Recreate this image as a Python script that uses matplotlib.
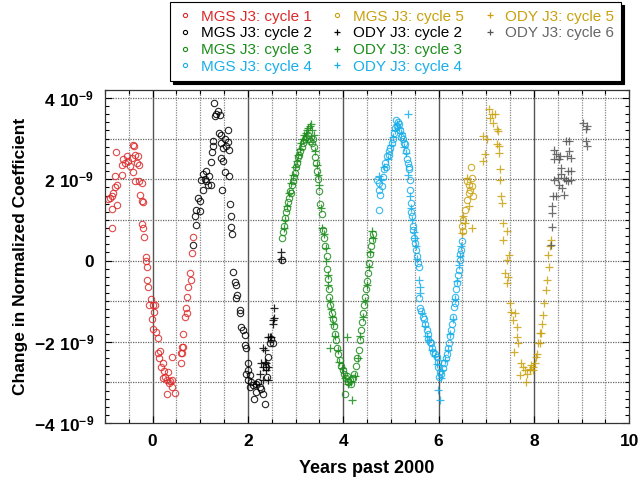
import matplotlib
matplotlib.use('Agg')
import matplotlib.pyplot as plt
from matplotlib.ticker import MultipleLocator, FuncFormatter
from matplotlib.lines import Line2D

plt.rcParams['font.family'] = ['Liberation Sans', 'DejaVu Sans']
plt.rcParams['mathtext.fontset'] = 'custom'
plt.rcParams['mathtext.rm'] = 'Liberation Sans'
plt.rcParams['mathtext.bf'] = 'Liberation Sans:bold'

# values in units of 1e-9, time in years past 2000
mgs1_t = [-0.767, -0.404, -0.384, -0.544, -0.614, -0.649, -0.579, -0.509, -0.474, -0.439, -0.370, -0.300,
          -0.335, -0.279, -0.404, -0.649, -0.788, -0.753, -0.788, -0.823, -0.858, -0.893, -0.927, -0.753,
          -0.844, -0.844, -0.370, -0.279, -0.216, -0.265, -0.230, -0.195, -0.230, -0.209, -0.174, -0.146,
          -0.146, -0.126, -0.126, -0.091, -0.042, -0.070, 0.000, 0.049, 0.035, -0.021, 0.014, 0.070, 0.105,
          0.153, 0.119, 0.139, 0.223, 0.167, 0.237, 0.209, 0.258, 0.328, 0.293, 0.363, 0.397, 0.349, 0.397,
          0.293, 0.467, 0.411, 0.607, 0.593, 0.593, 0.628, 0.642, 0.607, 0.676, 0.697, 0.711, 0.725, 0.746,
          0.781, 0.802, 0.830, 0.837]
mgs1_v = [2.66, 2.85, 2.83, 2.58, 2.50, 2.36, 2.40, 2.44, 2.32, 2.52, 2.60, 2.58,
          2.40, 2.36, 2.19, 2.11, 2.07, 1.87, 1.81, 1.66, 1.58, 1.54, 1.51, 1.37,
          1.27, 0.80, 1.95, 1.96, 1.91, 1.62, 1.47, 1.43, 0.90, 0.81, 0.59, 0.08,
          0.00, -0.15, -0.48, -0.64, -0.94, -1.09, -1.09, -1.09, -1.26, -1.45, -1.69, -1.77, -1.91,
          -2.22, -2.28, -2.41, -2.53, -2.63, -2.71, -2.90, -2.86, -2.74, -2.94, -2.96, -2.94, -3.02, -3.12,
          -3.29, -3.25, -2.37, -2.12, -2.27, -2.51, -1.81, -2.12, -2.28, -1.38, -1.18, -1.28, -0.89, -0.64,
          -0.31, -0.48, 0.18, 0.57]

mgs2_t = [1.287, 1.371, 1.336, 1.301, 1.406, 1.580, 1.392, 1.437, 1.266, 1.510, 1.580, 1.545, 1.441,
          1.476, 1.266, 1.245, 1.601, 1.441, 1.476, 1.231, 1.126, 1.056, 1.182, 1.091, 1.021, 1.126,
          1.161, 1.231, 1.510, 1.601, 1.056, 1.462, 0.951, 1.000, 0.916, 0.986, 0.881, 0.916, 1.629,
          1.650, 1.636, 1.664, 0.846, 1.685, 1.720, 1.755, 1.769, 1.755, 1.825, 1.839, 1.860, 1.895,
          1.930, 1.930, 1.965, 2.000, 1.965, 2.035, 2.070, 2.000, 2.105, 2.161, 2.210, 2.245, 2.175,
          2.280, 2.315, 2.119, 2.350, 2.399, 2.385, 2.420, 2.455, 2.490, 2.000, 2.049, 2.520, 2.720]
mgs2_v = [3.87, 3.68, 3.60, 3.56, 3.57, 3.21, 3.14, 3.10, 2.94, 2.98, 2.91, 2.81, 2.90,
          2.77, 2.81, 2.67, 2.72, 2.53, 2.44, 2.42, 2.20, 2.12, 2.07, 2.01, 1.99, 1.95,
          1.87, 1.87, 2.17, 2.07, 1.74, 1.73, 1.54, 1.46, 1.25, 1.21, 1.09, 0.88, 1.40,
          1.10, 0.82, 0.66, 0.39, -0.27, -0.52, -0.60, -0.85, -0.93, -1.22, -1.28, -1.63, -1.71,
          -1.84, -2.08, -2.16, -2.53, -2.78, -2.82, -2.99, -2.95, -3.07, -3.03, -2.99, -3.11, -3.23,
          -3.15, -3.28, -3.40, -3.52, -2.86, -2.62, -2.37, -2.04, -1.92, -2.70, -3.11, -2.03, 0.02]

mgs3_t = [2.72, 2.74, 2.76, 2.78, 2.80, 2.82, 2.84, 2.86, 2.88, 2.90, 2.92, 2.94, 2.96, 2.98, 3.00,
          3.03, 3.05, 3.08, 3.10, 3.13, 3.16, 3.19, 3.22, 3.25, 3.28, 3.31, 3.34, 3.37, 3.39, 3.41,
          3.43, 3.45, 3.48, 3.50, 3.52, 3.55, 3.57, 3.60, 3.62, 3.65, 3.66, 3.68, 3.70, 3.71, 3.73,
          3.76, 3.78, 3.80, 3.82, 3.85, 3.87, 3.90, 3.93, 3.96, 3.99, 4.02, 4.05, 4.03, 4.08, 4.11,
          4.14, 4.17, 4.20, 4.23, 4.26, 4.29, 4.32, 4.35, 4.38, 4.40, 4.42, 4.44, 4.46, 4.48, 4.50,
          4.52, 4.54, 4.56, 4.58, 4.60, 4.62]
mgs3_v = [0.55, 0.70, 0.85, 1.05, 1.20, 1.30, 1.45, 1.55, 1.70, 1.65, 1.85, 1.95, 2.05, 2.15, 2.30,
          2.40, 2.55, 2.60, 2.70, 2.80, 2.90, 3.00, 3.05, 3.10, 3.00, 2.95, 2.90, 3.00, 2.80, 2.55,
          2.40, 2.20, 2.00, 1.70, 1.40, 1.15, 0.75, 0.55, 0.35, 0.10, -0.20, -0.45, -0.70, -0.90, -1.10,
          -1.30, -1.45, -1.60, -1.80, -1.95, -2.15, -2.30, -2.45, -2.60, -2.70, -2.80, -2.90, -3.28, -2.85, -3.00,
          -2.95, -3.05, -2.90, -2.80, -2.60, -2.40, -2.20, -1.95, -1.70, -1.50, -1.30, -1.10, -0.90, -0.70, -0.50,
          -0.30, -0.05, 0.15, 0.35, 0.50, 0.65]

mgs4_t = [4.74, 4.71, 4.74, 4.78, 4.81, 4.76, 4.83, 4.85, 4.88, 4.90, 4.92, 4.95, 4.97, 4.99, 5.02,
          5.04, 5.06, 5.08, 5.10, 5.12, 5.14, 5.16, 5.19, 5.21, 5.23, 5.26, 5.28, 5.30, 5.32, 5.34,
          5.35, 5.37, 5.38, 5.40, 5.41, 5.42, 5.43, 5.44, 5.46, 5.47, 5.49, 5.51, 5.53, 5.54, 5.56,
          5.58, 5.58, 5.61, 5.64, 5.68, 5.70, 5.72, 5.75, 5.77, 5.78, 5.82, 5.85, 5.87, 5.89, 5.93,
          5.96, 5.98, 5.99, 6.01, 6.03, 6.06, 6.09, 6.12, 6.15, 6.17, 6.20, 6.22, 6.24, 6.26, 6.28,
          6.31, 6.33, 6.34, 6.35, 6.37, 6.38, 6.40, 6.42, 6.44, 6.46, 6.47, 6.49]
mgs4_v = [1.25, 1.99, 1.74, 1.62, 1.83, 1.90, 2.05, 2.24, 2.40, 2.30, 2.57, 2.69, 2.60, 2.77, 2.90,
          3.00, 3.14, 3.25, 3.45, 3.30, 3.40, 3.35, 3.20, 3.05, 3.10, 2.98, 2.90, 2.86, 2.70, 2.50,
          2.40, 2.30, 2.24, 1.99, 1.74, 1.42, 1.20, 1.09, 0.85, 0.76, 0.55, 0.43, 0.25, 0.10, -0.05,
          -0.15, -0.93, -1.18, -1.25, -1.38, -1.45, -1.55, -1.71, -1.80, -1.92, -2.00, -2.04, -2.15, -2.25, -2.30,
          -2.37, -2.50, -2.62, -2.86, -2.75, -2.78, -2.65, -2.53, -2.40, -2.29, -2.15, -2.04, -1.85, -1.71, -1.55,
          -1.38, -1.14, -1.05, -0.89, -0.70, -0.56, -0.35, -0.23, 0.02, 0.15, 0.26, 0.47]

mgs5_t = [6.68, 6.71, 6.66, 6.73, 6.63, 6.59, 6.56, 6.52, 6.50, 6.52, 6.59, 6.70, 6.64]
mgs5_v = [2.30, 1.83, 1.74, 1.58, 1.66, 1.50, 1.25, 1.00, 0.84, 0.72, 1.95, 2.03, 1.87]

ody2_t = [2.545, 2.524, 2.455, 2.420, 2.315, 2.350, 2.280, 2.350, 2.385, 2.420, 2.315, 2.371, 2.245,
          2.420, 2.315, 2.175, 2.538, 2.524, 2.490, 2.690, 2.700]
ody2_v = [-1.42, -1.55, -1.88, -1.88, -2.16, -2.21, -2.53, -2.49, -2.53, -2.62, -2.62, -2.70, -2.78,
          -2.95, -2.95, -3.03, -1.17, -1.46, -1.87, 0.20, 0.05]

ody3_t = [2.75, 2.78, 2.83, 2.87, 2.91, 2.95, 2.99, 3.02, 3.06, 3.09, 3.12, 3.15, 3.18, 3.21, 3.24,
          3.27, 3.30, 3.33, 3.35, 3.38, 3.40, 3.44, 3.47, 3.49, 3.53, 3.56, 3.59, 3.63, 3.64, 3.67,
          3.69, 3.72, 3.74, 3.77, 3.79, 3.83, 3.73, 3.88, 3.92, 3.97, 4.03, 4.10, 4.16, 4.08, 4.19,
          4.24, 4.30, 4.36, 4.41, 4.45, 4.49, 4.53, 4.57, 4.60, 4.63]
ody3_v = [0.80, 1.00, 1.35, 1.65, 1.90, 2.10, 2.30, 2.45, 2.60, 2.75, 2.90, 3.00, 3.10, 3.15, 3.20,
          3.25, 3.30, 3.35, 3.20, 3.10, 2.70, 2.35, 2.10, 1.85, 1.30, 0.80, 0.65, 0.30, 0.00, -0.35,
          -0.60, -1.00, -1.20, -1.40, -1.55, -1.85, -2.16, -2.20, -2.50, -2.65, -2.90, -3.05, -3.00, -1.88, -3.42,
          -2.85, -2.40, -1.85, -1.40, -1.00, -0.60, -0.15, 0.20, 0.72, 0.55]

ody4_t = [4.74, 4.80, 4.86, 4.93, 5.00, 5.05, 5.09, 5.13, 5.18, 5.22, 5.35, 5.27, 5.31, 5.36, 5.40,
          5.43, 5.45, 5.48, 5.50, 5.52, 5.55, 5.58, 5.61, 5.62, 5.66, 5.71, 5.76, 5.80, 5.86, 5.92,
          5.97, 5.99, 6.03, 6.05, 6.08, 6.14, 6.19, 6.25, 6.30, 6.35, 6.39, 6.43, 6.45, 6.48]
ody4_v = [2.07, 2.00, 2.30, 2.50, 2.85, 3.05, 3.20, 3.35, 3.25, 3.15, 3.60, 2.80, 2.65, 2.10, 1.60,
          1.30, 1.00, 0.70, 0.55, 0.35, 0.05, -0.48, -0.64, -0.80, -1.30, -1.60, -1.85, -1.95, -2.20, -2.35,
          -2.55, -3.19, -3.44, -2.90, -2.70, -2.45, -2.20, -1.80, -1.45, -0.95, -0.50, -0.10, 0.10, 0.35]

ody5_t = [6.59, 6.63, 6.52, 6.49, 6.70, 6.56, 6.94, 6.98, 6.94, 7.01, 7.05, 7.08, 7.12, 7.19, 7.15,
          7.22, 7.25, 7.23, 7.26, 7.26, 7.29, 7.29, 7.31, 7.33, 7.36, 7.43, 7.36, 7.47, 7.43, 7.40,
          7.45, 7.43, 7.50, 7.53, 7.60, 7.57, 7.64, 7.64, 7.67, 7.59, 7.74, 7.78, 7.81, 7.71, 7.85,
          7.92, 7.99, 7.95, 7.83, 8.02, 8.06, 8.09, 8.13, 7.91, 7.98, 8.05, 8.12, 8.15, 8.17, 8.19,
          8.22, 8.26, 8.28, 8.31, 8.29, 8.33, 8.35]
ody5_v = [2.03, 1.33, 1.09, 0.67, 0.80, 0.92, 2.44, 2.61, 3.06, 2.98, 3.72, 3.51, 3.60, 3.60, 3.39,
          3.23, 3.19, 2.86, 2.81, 2.65, 2.24, 1.99, 1.58, 1.42, 0.92, 0.72, 0.51, 0.14, 0.02, -0.31,
          -0.40, -0.56, -1.05, -1.26, -1.30, -1.47, -1.63, -1.88, -2.04, -2.25, -2.53, -2.62, -2.70, -2.82, -2.78,
          -2.66, -2.70, -2.58, -2.99, -2.53, -2.29, -2.04, -1.79, -2.70, -2.62, -2.37, -2.04, -1.79, -1.55, -1.34,
          -1.05, -0.72, -0.48, -0.15, 0.14, 0.35, 0.51]

ody6_t = [8.36, 8.38, 8.38, 8.38, 8.40, 8.47, 8.63, 8.43, 8.50, 8.57, 8.63, 8.71, 8.78, 8.53, 8.58,
          8.67, 8.57, 8.53, 8.43, 8.47, 8.43, 8.55, 8.69, 8.74, 8.78, 8.72, 8.78, 8.67, 8.74, 9.04,
          9.11, 9.10, 9.10, 9.11]
ody6_v = [0.39, 0.82, 1.17, 1.33, 1.60, 1.60, 1.62, 1.99, 2.03, 2.12, 2.03, 1.95, 1.99, 1.87, 1.79,
          1.99, 2.28, 2.49, 2.49, 2.61, 2.73, 2.57, 2.57, 2.69, 2.53, 2.20, 2.20, 2.94, 2.94, 3.39,
          3.31, 3.23, 2.94, 2.81]

red, green, cyan, gold, grey = '#dc2a2a', '#1a8c1a', '#18aeea', '#c9a10e', '#555555'

series = [
    ('MGS J3: cycle 1', mgs1_t, mgs1_v, 'o', red),
    ('MGS J3: cycle 2', mgs2_t, mgs2_v, 'o', 'black'),
    ('MGS J3: cycle 3', mgs3_t, mgs3_v, 'o', green),
    ('MGS J3: cycle 4', mgs4_t, mgs4_v, 'o', cyan),
    ('MGS J3: cycle 5', mgs5_t, mgs5_v, 'o', gold),
    ('ODY J3: cycle 2', ody2_t, ody2_v, '+', 'black'),
    ('ODY J3: cycle 3', ody3_t, ody3_v, '+', green),
    ('ODY J3: cycle 4', ody4_t, ody4_v, '+', cyan),
    ('ODY J3: cycle 5', ody5_t, ody5_v, '+', gold),
    ('ODY J3: cycle 6', ody6_t, ody6_v, '+', grey),
]

fig = plt.figure(figsize=(6.44, 4.83), dpi=100)
ax = fig.add_axes([0.163, 0.124, 0.814, 0.690])

# grid
for yv in range(-3, 5):
    ax.axhline(yv * 1e-9, color='#666666', lw=0.9, ls=(0, (1, 1)), zorder=0)
for i in range(-1, 20):
    xv = i * 0.5
    if i % 4 == 0:
        ax.axvline(xv, color='#555555', lw=1.0, zorder=0)
    else:
        ax.axvline(xv, color='#888888', lw=0.9, ls=(0, (1, 1)), zorder=0)

handles = []
for name, t, v, m, c in series:
    vals = [a * 1e-9 for a in v]
    if m == 'o':
        ax.plot(t, vals, ls='none', marker='o', ms=4.6, mfc='none', mec=c, mew=0.8, alpha=0.85)
        h = Line2D([], [], ls='none', marker='o', ms=3, mfc='none', mec=c, mew=0.8)
    else:
        ax.plot(t, vals, ls='none', marker='+', ms=5.5, mec=c, mew=0.9, alpha=0.85)
        h = Line2D([], [], ls='none', marker='+', ms=4.5, mec=c, mew=0.9)
    handles.append((h, name, c))

ax.set_xlim(-1, 10)
ax.set_ylim(-4e-9, 4.2e-9)
ax.xaxis.set_major_locator(MultipleLocator(2))
ax.xaxis.set_minor_locator(MultipleLocator(0.5))
ax.yaxis.set_major_locator(MultipleLocator(2e-9))
ax.yaxis.set_minor_locator(MultipleLocator(0.2e-9))


def ylab(v, pos):
    n = int(round(v / 1e-9))
    if n == 0:
        return '0'
    return r'$\mathbf{%d\ 10^{-9}}$' % n


ax.yaxis.set_major_formatter(FuncFormatter(ylab))
ax.tick_params(which='both', direction='in', top=True, right=True, width=0.8)
ax.tick_params(which='major', length=5, labelsize=12.5, pad=8)
ax.tick_params(which='minor', length=3)
for lab in ax.get_xticklabels() + ax.get_yticklabels():
    lab.set_fontweight('bold')
for s in ax.spines.values():
    s.set_linewidth(0.9)
    s.set_color('#333333')

ax.set_xlabel('Years past 2000', fontsize=13, fontweight='bold', labelpad=8)
ax.set_ylabel('Change in Normalized Coefficient', fontsize=12.5, fontweight='bold', labelpad=4)

# legend: 3 columns of 4 rows, last two slots empty
blank = Line2D([], [], ls='none')
hs = [h for h, _, _ in handles] + [blank, blank]
ls = [n for _, n, _ in handles] + ['', '']
leg = fig.legend(hs, ls, ncol=3, loc='upper left', bbox_to_anchor=(0.264, 0.996),
                 fontsize=11, frameon=True, fancybox=False, edgecolor='black',
                 shadow={'color': 'black', 'alpha': 1.0}, borderpad=0.5, labelspacing=0.18,
                 handlelength=1.0, handletextpad=0.5, columnspacing=1.2, borderaxespad=0)
leg.get_frame().set_linewidth(0.8)
for txt, (_, _, c) in zip(leg.get_texts(), handles):
    txt.set_color('#666666' if c == grey else c)

fig.savefig('out.png', dpi=100)
